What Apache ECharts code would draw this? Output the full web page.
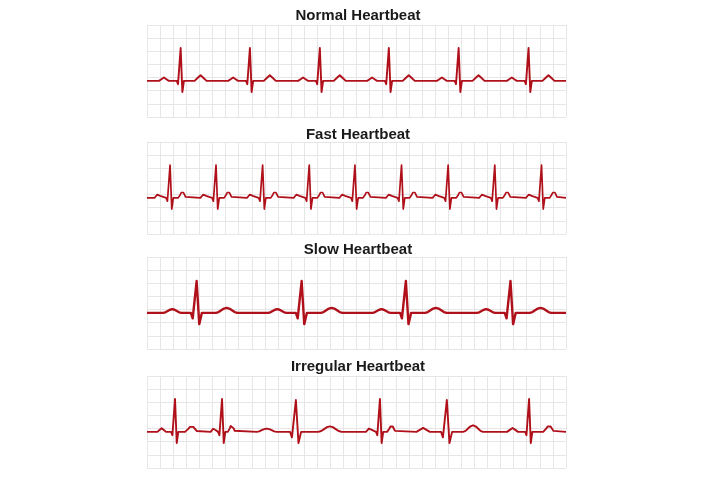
<!DOCTYPE html>
<html>
<head>
<meta charset="utf-8">
<script src="https://cdn.jsdelivr.net/npm/echarts@6/dist/echarts.min.js"></script>
<style>
  html, body { margin: 0; padding: 0; background: #fff; }
  #chart { width: 716px; height: 478px; }
</style>
</head>
<body>
<div id="chart"></div>
<script>
// ECG strips, all units are small grid squares
const titles = ['Normal Heartbeat', 'Fast Heartbeat', 'Slow Heartbeat', 'Irregular Heartbeat'];

// R peak positions (squares from the left edge) and QRS type
const normalR = [2.57, 7.86, 13.2, 18.47, 23.8, 29.14];
const fastR = [1.76, 5.27, 8.83, 12.39, 15.88, 19.44, 23.0, 26.56, 30.13];
const slowR = [3.79, 11.81, 19.77, 27.76];
const irregularR = [2.14, 5.73, 11.37, 17.79, 22.9, 29.18];
const normalKind = ['thin', 'thin', 'thin', 'thin', 'thin', 'thin'];
const fastKind = ['thin', 'thin', 'thin', 'thin', 'thin', 'thin', 'thin', 'thin', 'thin'];
const slowKind = ['wide', 'wide', 'wide', 'wide'];
const irregularKind = ['thin', 'thin', 'wide', 'thin', 'wide', 'thin'];

// P and T waves: [centre, half width, height]
const normalWaves = [
  [1.29, 0.38, 0.25], [4.09, 0.46, 0.43], [6.58, 0.38, 0.25], [9.38, 0.46, 0.43],
  [11.92, 0.38, 0.25], [14.72, 0.46, 0.43], [17.19, 0.38, 0.25], [19.99, 0.46, 0.43],
  [22.52, 0.38, 0.25], [25.32, 0.46, 0.43], [27.86, 0.38, 0.25], [30.66, 0.46, 0.43]
];
const fastWaves = [
  [0.86, 0.29, 0.3], [2.7, 0.32, 0.48], [4.37, 0.29, 0.3], [6.21, 0.32, 0.48],
  [7.93, 0.29, 0.3], [9.77, 0.32, 0.48], [11.49, 0.29, 0.3], [13.33, 0.32, 0.48],
  [14.98, 0.29, 0.3], [16.82, 0.32, 0.48], [18.54, 0.29, 0.3], [20.38, 0.32, 0.48],
  [22.1, 0.29, 0.3], [23.94, 0.32, 0.48], [25.66, 0.29, 0.3], [27.5, 0.32, 0.48],
  [29.23, 0.29, 0.3], [31.07, 0.32, 0.48]
];
const slowWaves = [
  [1.93, 0.7, 0.28], [6.08, 0.82, 0.38], [9.95, 0.7, 0.28], [14.1, 0.82, 0.38],
  [17.91, 0.7, 0.28], [22.06, 0.82, 0.38], [25.9, 0.7, 0.28], [30.05, 0.82, 0.38]
];
const irregularWaves = [
  [1.12, 0.33, 0.28], [3.41, 0.51, 0.45], [5.11, 0.25, 0.28], [6.47, 0.3, 0.53],
  [9.14, 0.76, 0.25], [13.97, 0.89, 0.42], [17.02, 0.3, 0.3], [18.68, 0.35, 0.48],
  [21.09, 0.51, 0.3], [24.9, 0.76, 0.5], [27.92, 0.42, 0.3], [30.71, 0.45, 0.48]
];

// complex shapes relative to the R peak: [dx, dy]
const qrsShapes = {
  thin: [[-0.3, 0], [-0.2, -0.25], [0, 2.5], [0.13, -0.85], [0.25, 0]],
  wide: [[-0.44, 0], [-0.3, -0.42], [0, 2.42], [0.2, -0.86], [0.4, 0]]
};
// rounded wave outline, scaled by half width and height
const bumpShape = [[-1, 0], [-0.75, 0.15], [-0.5, 0.5], [-0.25, 0.85], [0, 1], [0.25, 0.85], [0.5, 0.5], [0.75, 0.15], [1, 0]];

const BASE = 2.75; // baseline sits 2.75 squares above the bottom
const X_MAX = 32;
const Y_MAX = 7;

const panels = [
  { r: normalR, kind: normalKind, waves: normalWaves, width: 1.9 },
  { r: fastR, kind: fastKind, waves: fastWaves, width: 1.7 },
  { r: slowR, kind: slowKind, waves: slowWaves, width: 2.4 },
  { r: irregularR, kind: irregularKind, waves: irregularWaves, width: 1.9 }
];
const tops = [25, 142, 257, 376];
const titleTops = [3, 122, 237, 354];

function trace(p) {
  const parts = [];
  p.r.forEach((r, i) => {
    parts.push(qrsShapes[p.kind[i]].map(([dx, dy]) => [r + dx, BASE + dy]));
  });
  p.waves.forEach(([c, hw, h]) => {
    parts.push(bumpShape.map(([dx, k]) => [c + dx * hw, BASE + k * h]));
  });
  parts.sort((a, b) => a[0][0] - b[0][0]);
  return [[0, BASE]].concat(...parts, [[X_MAX, BASE]]);
}

const chart = echarts.init(document.getElementById('chart'), null, { renderer: 'canvas' });

const gridLine = { show: true, lineStyle: { color: '#e6e6e6', width: 1 } };
const option = {
  animation: false,
  backgroundColor: '#fff',
  title: titles.map((t, i) => ({
    text: t,
    left: 'center',
    top: titleTops[i],
    textStyle: { fontSize: 15, fontWeight: 'bold', color: '#1a1a1a', fontFamily: 'Liberation Sans, Arial, sans-serif' }
  })),
  grid: tops.map(t => ({ left: 147, width: 419, top: t, height: 92 })),
  xAxis: tops.map((t, i) => ({
    type: 'value', gridIndex: i, min: 0, max: X_MAX, interval: 1,
    axisLine: { show: false }, axisTick: { show: false }, axisLabel: { show: false },
    splitLine: gridLine
  })),
  yAxis: tops.map((t, i) => ({
    type: 'value', gridIndex: i, min: 0, max: Y_MAX, interval: 1,
    axisLine: { show: false }, axisTick: { show: false }, axisLabel: { show: false },
    splitLine: gridLine
  })),
  series: panels.map((p, i) => ({
    type: 'line',
    xAxisIndex: i,
    yAxisIndex: i,
    data: trace(p),
    symbol: 'none',
    silent: true,
    lineStyle: { color: '#b0101a', width: p.width, join: 'round' }
  }))
};
chart.setOption(option);
</script>
</body>
</html>
